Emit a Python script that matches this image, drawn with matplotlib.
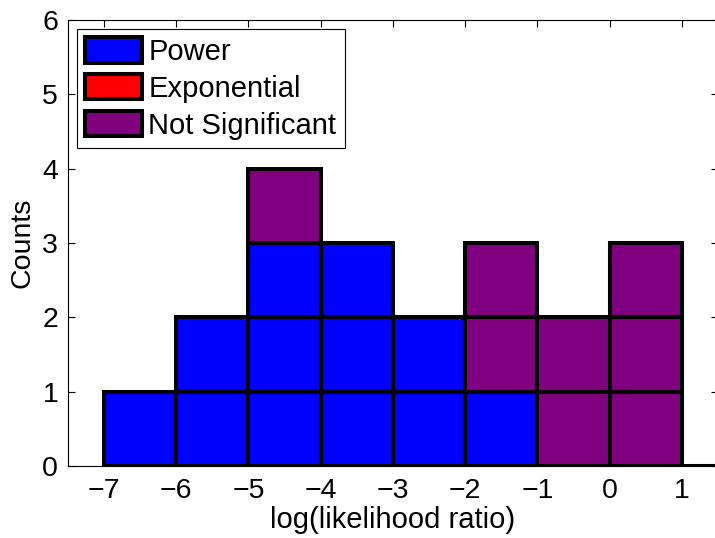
import numpy as np
import matplotlib
matplotlib.use("Agg")
import matplotlib.pyplot as plt
from matplotlib.patches import Patch

plt.rcParams['font.family'] = ['Liberation Sans', 'DejaVu Sans']

#bin edges of the histogram (left edges), width 1
bin_left = [-7, -6, -5, -4, -3, -2, -1, 0, 1]
power_counts = [1, 2, 3, 3, 2, 1, 0, 0, 0]
expo_counts = [0, 0, 0, 0, 0, 0, 0, 0, 0]
notsig_counts = [0, 0, 1, 0, 0, 2, 2, 3, 0]

blue = (0, 0, 1)
red = (1, 0, 0)
purple = (0.5, 0, 0.5)

fig = plt.figure(figsize=(7.15, 5.38), dpi=100)
ax = fig.add_axes([0.095, 0.134, 0.909, 0.829])

edge_lw = 2.9
fs = 20.5
for i, left in enumerate(bin_left):
    bottom = 0
    for n, col in [(power_counts[i], blue), (expo_counts[i], red), (notsig_counts[i], purple)]:
        for k in range(n):
            ax.bar(left, 1, width=1, bottom=bottom, align="edge", color=col,
                   edgecolor="black", linewidth=edge_lw, zorder=2)
            bottom += 1
    if bottom == 0:
        #empty bin -> flat bar drawn as a line on the baseline
        ax.bar(left, 0, width=1, bottom=0, align="edge", color="white",
               edgecolor="black", linewidth=edge_lw, zorder=2)

ax.set_xlim(-7.5, 1.5)
ax.set_ylim(0, 6)
ax.set_xticks(range(-7, 2))
ax.set_xticklabels(["\u22127", "\u22126", "\u22125", "\u22124", "\u22123", "\u22122", "\u22121", "0", "1"])
ax.set_yticks(range(0, 7))
ax.tick_params(direction="in", top=True, right=True, length=5, width=0.8, labelsize=fs)
ax.tick_params(axis="x", pad=9)
ax.tick_params(axis="y", pad=7)
for s in ax.spines.values():
    s.set_linewidth(0.8)
ax.set_xlabel("log(likelihood ratio)", fontsize=21, labelpad=1)
ax.set_ylabel("Counts", fontsize=fs, labelpad=5)

handles = [Patch(facecolor=blue, edgecolor="black", linewidth=edge_lw, label="Power"),
           Patch(facecolor=red, edgecolor="black", linewidth=edge_lw, label="Exponential"),
           Patch(facecolor=purple, edgecolor="black", linewidth=edge_lw, label="Not Significant")]
leg = ax.legend(handles=handles, loc="upper left", fontsize=21, fancybox=False,
                framealpha=1, edgecolor="black", borderpad=0.3, labelspacing=0.28,
                handlelength=1.95, handleheight=0.95, handletextpad=0.2,
                borderaxespad=0.3)
leg.get_frame().set_linewidth(0.8)

fig.savefig("out.png", dpi=100)
